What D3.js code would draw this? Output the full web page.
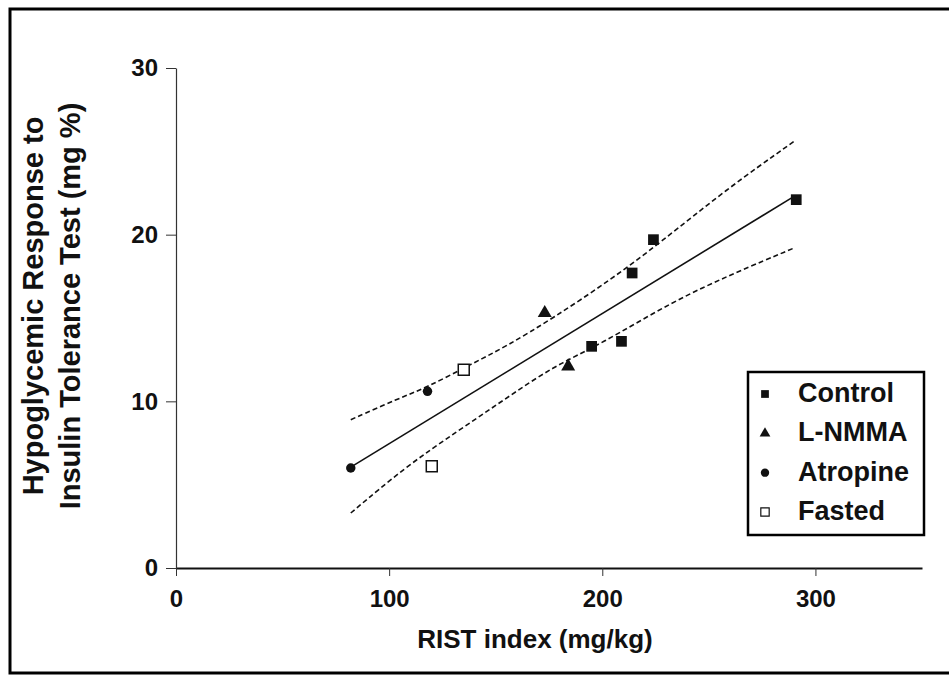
<!DOCTYPE html>
<html>
<head>
<meta charset="utf-8">
<script src="https://cdn.jsdelivr.net/npm/d3@7"></script>
<style>
  body { margin: 0; background: #fff; }
  svg text { font-family: Arial, "Liberation Sans", sans-serif; font-weight: bold; fill: #111; }
</style>
</head>
<body>
<svg id="chart" width="949" height="675"></svg>
<script>
// values
var controlPts  = [[195, 13.3], [209, 13.6], [214, 17.7], [224, 19.7], [291, 22.1]];
var lnmmaPts    = [[173, 15.3], [184, 12.1]];
var atropinePts = [[118, 10.6], [82, 6.0]];
var fastedPts   = [[135, 11.9], [120, 6.1]];

// regression line and 95% band
var fitX   = [82, 290];
var fitY   = [6.05, 22.3];
var upperX = [82, 104, 118, 138, 155, 177, 204, 227, 258, 290];
var upperY = [8.9, 10.15, 10.85, 12.2, 13.3, 15.0, 17.3, 19.5, 22.7, 25.6];
var lowerX = [82, 108, 132, 154, 177, 199, 233, 262, 290];
var lowerY = [3.3, 6.1, 8.2, 10.1, 12.1, 13.4, 16.0, 17.7, 19.2];

var xTicks = [0, 100, 200, 300];
var yTicks = [0, 10, 20, 30];
var groups = ["Control", "L-NMMA", "Atropine", "Fasted"];

var svg = d3.select("#chart");

var x = d3.scaleLinear().domain([0, 350]).range([176, 922]);
var y = d3.scaleLinear().domain([0, 30]).range([568, 68]);

// outer frame (right side runs off the page)
svg.append("rect")
  .attr("x", 10).attr("y", 9)
  .attr("width", 960).attr("height", 664)
  .attr("fill", "none")
  .attr("stroke", "#000")
  .attr("stroke-width", 3);

// axes
var xAxis = svg.append("g")
  .attr("transform", "translate(0," + y(0) + ")")
  .call(d3.axisBottom(x).tickValues(xTicks).tickSize(8).tickSizeOuter(0).tickPadding(14));
xAxis.select(".domain").attr("stroke", "#111").attr("stroke-width", 2);
xAxis.selectAll(".tick line").attr("stroke", "#333");
xAxis.selectAll("text").style("font-size", "24px").attr("fill", "#111");

var yAxis = svg.append("g")
  .attr("transform", "translate(" + x(0) + ",0)")
  .call(d3.axisLeft(y).tickValues(yTicks).tickSize(10).tickSizeOuter(0).tickPadding(8));
yAxis.select(".domain").attr("stroke", "#333").attr("stroke-width", 1.2);
yAxis.selectAll(".tick line").attr("stroke", "#333");
yAxis.selectAll("text").style("font-size", "24px").attr("fill", "#111");

// axis titles
svg.append("text")
  .attr("x", 535).attr("y", 648)
  .attr("text-anchor", "middle")
  .style("font-size", "26px")
  .text("RIST index (mg/kg)");

svg.append("text")
  .attr("transform", "translate(43,306) rotate(-90)")
  .attr("text-anchor", "middle")
  .style("font-size", "29px")
  .text("Hypoglycemic Response to");
svg.append("text")
  .attr("transform", "translate(80,306) rotate(-90)")
  .attr("text-anchor", "middle")
  .style("font-size", "29px")
  .text("Insulin Tolerance Test (mg %)");

// lines
var line = d3.line().x(function(d) { return x(d[0]); }).y(function(d) { return y(d[1]); });
var curved = d3.line().curve(d3.curveBasis).x(function(d) { return x(d[0]); }).y(function(d) { return y(d[1]); });

svg.append("path")
  .datum(d3.zip(fitX, fitY))
  .attr("d", line)
  .attr("fill", "none").attr("stroke", "#111").attr("stroke-width", 1.6);

svg.append("path")
  .datum(d3.zip(upperX, upperY))
  .attr("d", curved)
  .attr("fill", "none").attr("stroke", "#111").attr("stroke-width", 1.6)
  .attr("stroke-dasharray", "5,3");

svg.append("path")
  .datum(d3.zip(lowerX, lowerY))
  .attr("d", curved)
  .attr("fill", "none").attr("stroke", "#111").attr("stroke-width", 1.6)
  .attr("stroke-dasharray", "5,3");

// markers
var symType = { "Control": d3.symbolSquare, "L-NMMA": d3.symbolTriangle, "Atropine": d3.symbolCircle, "Fasted": d3.symbolSquare };
var symSize = { "Control": 115, "L-NMMA": 85, "Atropine": 70, "Fasted": 120 };
var groupPts = { "Control": controlPts, "L-NMMA": lnmmaPts, "Atropine": atropinePts, "Fasted": fastedPts };

groups.forEach(function(g) {
  svg.append("g").selectAll("path")
    .data(groupPts[g])
    .enter()
    .append("path")
      .attr("transform", function(d) { return "translate(" + x(d[0]) + "," + y(d[1]) + ")"; })
      .attr("d", d3.symbol().type(symType[g]).size(symSize[g]))
      .attr("fill", g == "Fasted" ? "#fff" : "#111")
      .attr("stroke", "#111")
      .attr("stroke-width", g == "Fasted" ? 1.5 : 0);
});

// legend
var legend = svg.append("g");
legend.append("rect")
  .attr("x", 748).attr("y", 372)
  .attr("width", 176).attr("height", 163)
  .attr("fill", "#fff")
  .attr("stroke", "#000").attr("stroke-width", 2.5);

var row = d3.scalePoint().domain(groups).range([402, 520]);
var legSize = { "Control": 60, "L-NMMA": 50, "Atropine": 55, "Fasted": 70 };

groups.forEach(function(g) {
  legend.append("path")
    .attr("transform", "translate(765," + (row(g) - 8) + ")")
    .attr("d", d3.symbol().type(symType[g]).size(legSize[g]))
    .attr("fill", g == "Fasted" ? "#fff" : "#111")
    .attr("stroke", "#111")
    .attr("stroke-width", g == "Fasted" ? 1.2 : 0);
  legend.append("text")
    .attr("x", 798).attr("y", row(g))
    .style("font-size", "27px")
    .text(g);
});
</script>
</body>
</html>
